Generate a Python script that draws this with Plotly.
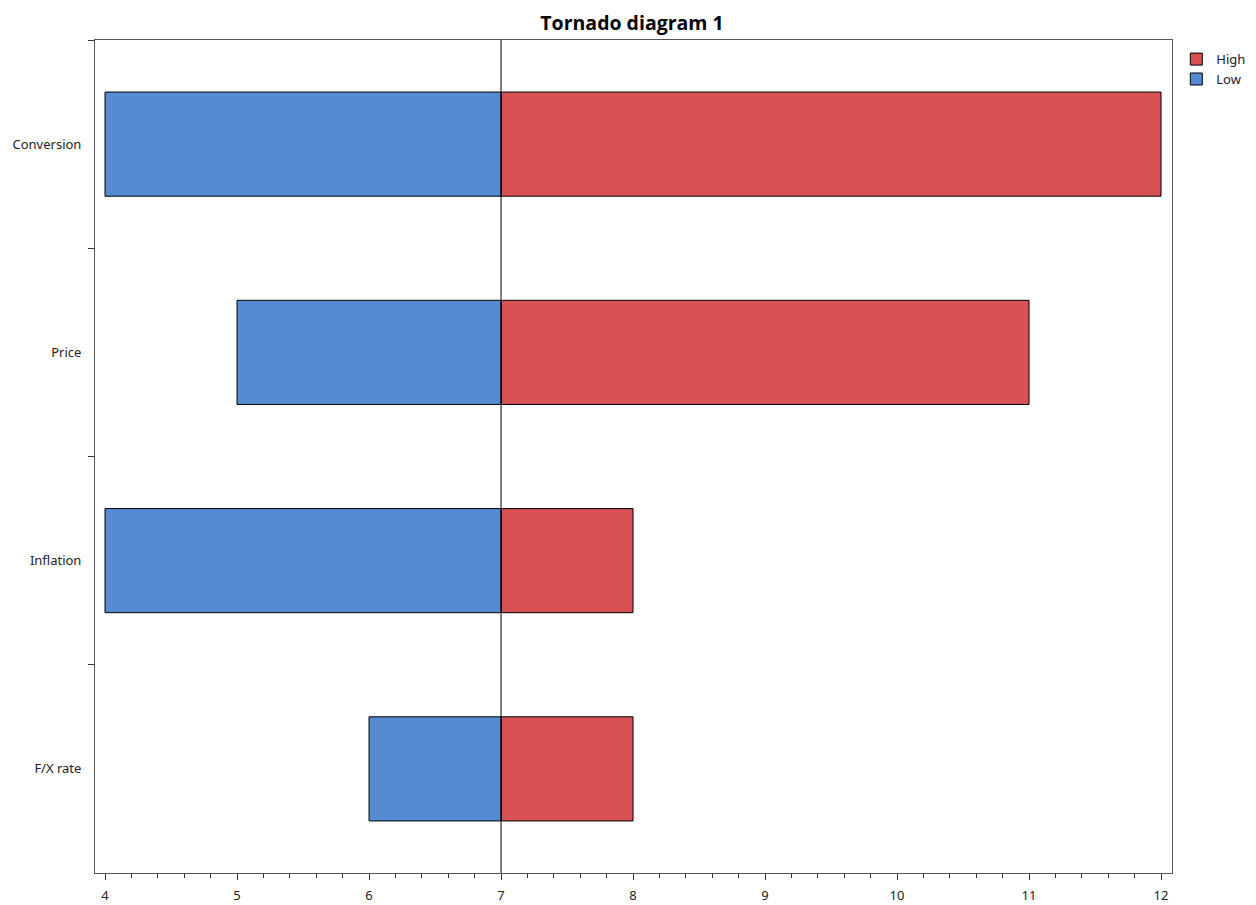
import plotly.graph_objects as go

categories = ["Conversion", "Price", "Inflation", "F/X rate"]
low_values = [4, 5, 4, 6]
high_values = [12, 11, 8, 8]
base_value = 7
x_ticks = [4, 5, 6, 7, 8, 9, 10, 11, 12]

fig = go.Figure()
fig.add_trace(go.Bar(
    name="High", y=categories, x=[h - base_value for h in high_values], base=base_value,
    orientation="h", width=0.5,
    marker=dict(color="#D85155", line=dict(color="black", width=1)),
))
fig.add_trace(go.Bar(
    name="Low", y=categories, x=[l - base_value for l in low_values], base=base_value,
    orientation="h", width=0.5,
    marker=dict(color="#558BD3", line=dict(color="black", width=1)),
))

fig.add_shape(type="line", xref="x", yref="paper", x0=base_value, x1=base_value, y0=0, y1=1,
              line=dict(color="black", width=1))

fig.update_layout(
    width=1248, height=897,
    margin=dict(l=87, r=84, t=32, b=32, autoexpand=False),
    paper_bgcolor="white", plot_bgcolor="white",
    barmode="overlay",
    font=dict(family="Noto Sans, DejaVu Sans, sans-serif", size=12, color="#222"),
    title=dict(text="<b>Tornado diagram 1</b>", x=0.5, xanchor="center",
               yref="container", y=0.983, yanchor="middle",
               font=dict(family="Open Sans, DejaVu Sans, sans-serif", size=19.5, color="black")),
    legend=dict(x=1.004, y=0.995, xanchor="left", yanchor="top", traceorder="normal",
                font=dict(size=13), itemwidth=30, tracegroupgap=0, bgcolor="rgba(0,0,0,0)"),
    showlegend=True,
)
fig.update_xaxes(
    range=[3.924, 12.083], tickvals=x_ticks, ticks="outside", ticklen=6, tickcolor="#333",
    showline=True, linecolor="#555", linewidth=1, mirror=True, showgrid=False, zeroline=False,
    minor=dict(dtick=0.2, ticks="outside", ticklen=4, tickcolor="#333", showgrid=False),
    tickfont=dict(size=13), ticklabelstandoff=4, automargin=False,
)
fig.update_yaxes(
    categoryorder="array", categoryarray=categories, range=[3.5, -0.5],
    tickson="boundaries", ticks="outside", ticklen=6, tickcolor="#333",
    showline=True, linecolor="#555", linewidth=1, mirror=True, showgrid=False, zeroline=False,
    tickfont=dict(size=13), ticklabelstandoff=10, automargin=False,
)

fig.write_html("out.html")
